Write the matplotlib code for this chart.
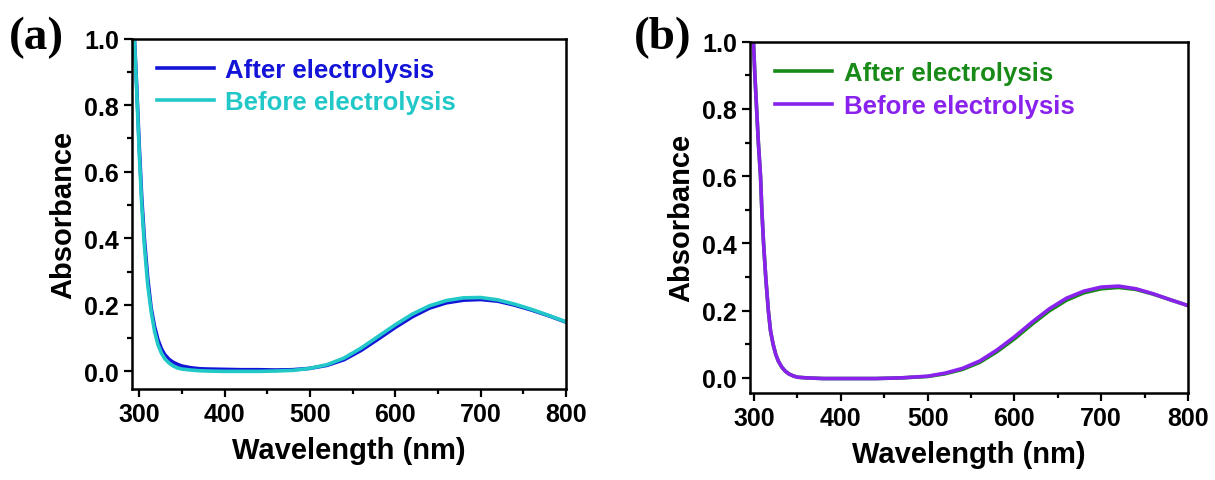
# UV-vis spectra before / after electrolysis
import numpy as np
import matplotlib.pyplot as plt
from matplotlib.ticker import MultipleLocator

plt.rcParams['font.family'] = ['Liberation Sans', 'DejaVu Sans']
plt.rcParams['font.weight'] = 'bold'

# panel (a) data
wl_a = [294, 297, 300, 303, 306, 310, 314, 318, 322, 326, 330, 335, 340, 345, 350,
        360, 370, 380, 400, 420, 440, 460, 480, 500, 520, 540, 560, 580, 600, 620,
        640, 660, 680, 700, 720, 740, 760, 780, 800]
after_a = [1.02, 0.86, 0.68, 0.52, 0.40, 0.28, 0.19, 0.135, 0.095, 0.068, 0.050, 0.036,
           0.027, 0.021, 0.016, 0.011, 0.008, 0.007, 0.006, 0.005, 0.005, 0.004, 0.005,
           0.009, 0.018, 0.035, 0.063, 0.097, 0.132, 0.164, 0.190, 0.206, 0.214, 0.216,
           0.211, 0.199, 0.184, 0.167, 0.148]
before_a = [1.02, 0.85, 0.66, 0.50, 0.38, 0.26, 0.18, 0.12, 0.08, 0.055, 0.038, 0.025,
            0.016, 0.010, 0.007, 0.004, 0.002, 0.001, 0.0, 0.0, 0.0, 0.001, 0.003,
            0.009, 0.020, 0.040, 0.070, 0.105, 0.140, 0.172, 0.197, 0.213, 0.221, 0.222,
            0.215, 0.202, 0.186, 0.168, 0.149]

# panel (b) data
wl_b = [299, 301, 303, 305, 307.5, 309, 311, 313.5, 316.5, 319, 322, 325, 328, 332, 336,
        340, 345, 350, 360, 380, 400, 440, 470, 500, 520, 540, 560, 580, 600, 620, 640,
        660, 680, 700, 720, 740, 760, 780, 800]
before_b = [1.02, 0.90, 0.80, 0.70, 0.60, 0.50, 0.40, 0.30, 0.20, 0.14, 0.10, 0.07, 0.05,
            0.032, 0.020, 0.012, 0.006, 0.002, 0.0, -0.002, -0.002, -0.002, 0.0, 0.005,
            0.014, 0.028, 0.050, 0.083, 0.122, 0.165, 0.205, 0.237, 0.258, 0.270, 0.273,
            0.265, 0.250, 0.232, 0.215]
after_b = [1.02, 0.90, 0.80, 0.70, 0.60, 0.50, 0.40, 0.30, 0.20, 0.14, 0.10, 0.07, 0.05,
           0.032, 0.020, 0.012, 0.006, 0.002, 0.0, -0.002, -0.002, -0.002, 0.0, 0.004,
           0.012, 0.025, 0.046, 0.078, 0.116, 0.159, 0.199, 0.231, 0.253, 0.265, 0.269,
           0.263, 0.249, 0.232, 0.215]

fig = plt.figure(figsize=(12.15, 4.81), dpi=100)
ax1 = fig.add_axes([0.1086, 0.1892, 0.3572, 0.7283])
ax2 = fig.add_axes([0.6173, 0.1809, 0.3605, 0.7303])

ax1.plot(wl_a, after_a, color='#1414d8', lw=2.6, label='After electrolysis')
ax1.plot(wl_a, before_a, color='#22c8c8', lw=2.6, label='Before electrolysis')
ax2.plot(wl_b, after_b, color='#178a17', lw=2.6, label='After electrolysis')
ax2.plot(wl_b, before_b, color='#8a22ee', lw=2.6, label='Before electrolysis')

for ax, xl, yl in [(ax1, 291.5, -0.053), (ax2, 295.4, -0.045)]:
    ax.set_xlim(xl, 800)
    ax.set_ylim(yl, 1.0)
    ax.xaxis.set_major_locator(MultipleLocator(100))
    ax.xaxis.set_minor_locator(MultipleLocator(50))
    ax.yaxis.set_major_locator(MultipleLocator(0.2))
    ax.yaxis.set_minor_locator(MultipleLocator(0.1))
    ax.yaxis.set_major_formatter(plt.FuncFormatter(lambda v, p: '%.1f' % v))
    ax.tick_params(which='major', direction='out', length=6, width=1.6, labelsize=18)
    ax.tick_params(which='minor', direction='out', length=3.5, width=1.6)
    for s in ax.spines.values():
        s.set_linewidth(1.8)
    ax.set_xlabel('Wavelength (nm)', fontsize=21, fontweight='bold', labelpad=7)
    ax.set_ylabel('Absorbance', fontsize=21, fontweight='bold', labelpad=5)
    leg = ax.legend(loc='upper left', bbox_to_anchor=(0.058, 0.945), frameon=False,
                    borderpad=0, borderaxespad=0,
                    fontsize=18.5, handlelength=2.2, handletextpad=0.45, labelspacing=0.33)
    for t, l in zip(leg.get_texts(), leg.get_lines()):
        t.set_color(l.get_color())
        t.set_fontweight('bold')

fig.text(0.007, 0.965, '(a)', fontsize=34, fontweight='bold', family='Liberation Serif', va='top')
fig.text(0.522, 0.965, '(b)', fontsize=34, fontweight='bold', family='Liberation Serif', va='top')

plt.savefig('out.png', dpi=100)
